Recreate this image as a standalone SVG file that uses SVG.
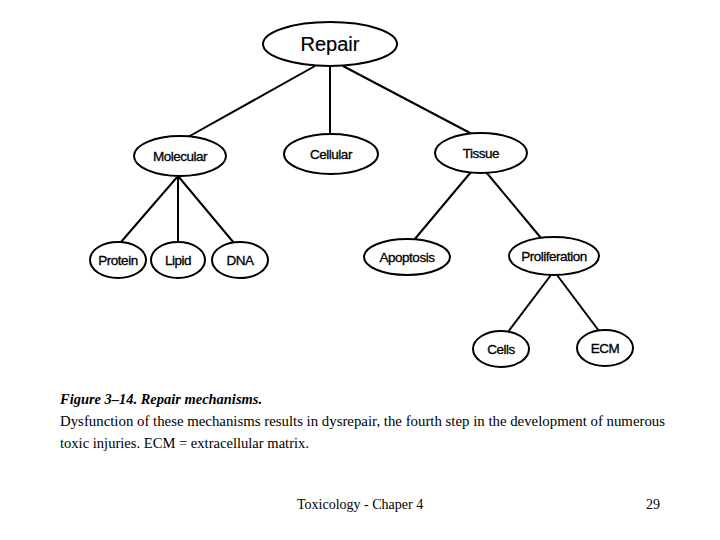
<svg xmlns="http://www.w3.org/2000/svg" width="720" height="540" viewBox="0 0 720 540">
<style>
.n ellipse{fill:#fff;stroke:#000;stroke-width:2}
.n text{font-family:"Liberation Sans",Arial,sans-serif;font-size:13.5px;text-anchor:middle;fill:#000;stroke:#000;stroke-width:0.3;letter-spacing:-0.5px}
#edges line{stroke:#000;stroke-width:2}
.cap{font-family:"Liberation Serif","Times New Roman",serif;fill:#000}
</style>
<rect width="720" height="540" fill="#fff"/>
<g id="edges">
<line x1="315" y1="66" x2="188" y2="137"/>
<line x1="330" y1="66" x2="330" y2="134"/>
<line x1="343" y1="66" x2="472" y2="134"/>
<line x1="178" y1="176" x2="121" y2="242"/>
<line x1="178" y1="176" x2="178" y2="242"/>
<line x1="178" y1="176" x2="234" y2="243"/>
<line x1="471" y1="172" x2="414" y2="240"/>
<line x1="486" y1="172" x2="541" y2="238"/>
<line x1="551" y1="275" x2="508" y2="332"/>
<line x1="557" y1="275" x2="599" y2="331"/>
</g>
<g id="repair" class="n"><ellipse cx="330" cy="44" rx="67" ry="22"/><text x="330" y="51" style="font-size:20px;letter-spacing:0;stroke-width:0.2">Repair</text></g>
<g id="molecular" class="n"><ellipse cx="180" cy="156" rx="46" ry="20"/><text x="180" y="161">Molecular</text></g>
<g id="cellular" class="n"><ellipse cx="331" cy="154" rx="47" ry="20"/><text x="331" y="159">Cellular</text></g>
<g id="tissue" class="n"><ellipse cx="481" cy="153" rx="46" ry="20"/><text x="481" y="158">Tissue</text></g>
<g id="protein" class="n"><ellipse cx="118" cy="260" rx="28" ry="18"/><text x="118" y="265">Protein</text></g>
<g id="lipid" class="n"><ellipse cx="178" cy="260" rx="27" ry="18"/><text x="178" y="265">Lipid</text></g>
<g id="dna" class="n"><ellipse cx="240" cy="260" rx="28" ry="18"/><text x="240" y="265">DNA</text></g>
<g id="apoptosis" class="n"><ellipse cx="407" cy="257" rx="43" ry="18"/><text x="407" y="262">Apoptosis</text></g>
<g id="proliferation" class="n"><ellipse cx="554" cy="256" rx="45" ry="19"/><text x="554" y="261">Proliferation</text></g>
<g id="cells" class="n"><ellipse cx="501" cy="349" rx="28" ry="18"/><text x="501" y="354">Cells</text></g>
<g id="ecm" class="n"><ellipse cx="605" cy="348" rx="28" ry="18"/><text x="605" y="353">ECM</text></g>
<text class="cap" x="60" y="404" font-size="15" font-weight="bold" font-style="italic" textLength="202" lengthAdjust="spacingAndGlyphs">Figure 3–14. Repair mechanisms.</text>
<text class="cap" x="60" y="426" font-size="14.5" textLength="605" lengthAdjust="spacingAndGlyphs">Dysfunction of these mechanisms results in dysrepair, the fourth step in the development of numerous</text>
<text class="cap" x="60" y="448" font-size="14.5" textLength="249" lengthAdjust="spacingAndGlyphs">toxic injuries. ECM = extracellular matrix.</text>
<text class="cap" x="297" y="509" font-size="14">Toxicology - Chaper 4</text>
<text class="cap" x="646" y="509" font-size="14">29</text>
</svg>
